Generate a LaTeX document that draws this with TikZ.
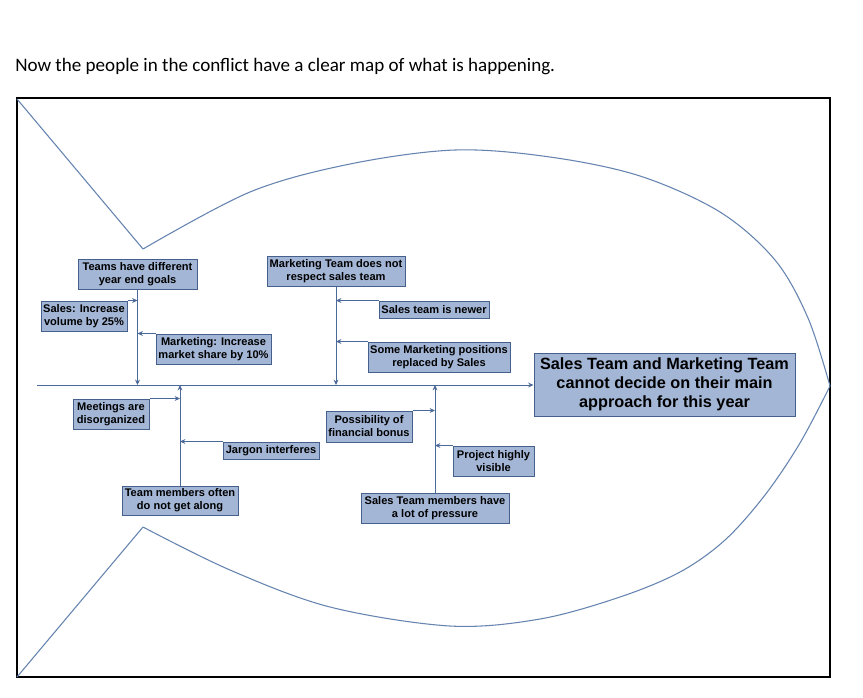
\documentclass[tikz,border=0pt]{standalone}
\usepackage{fontspec}
\setmainfont{Liberation Sans}
\newfontfamily\calibri{Carlito}
\usetikzlibrary{arrows.meta}
\definecolor{boxfill}{HTML}{A3B6D6}
\definecolor{boxdraw}{HTML}{45608C}
\definecolor{linec}{HTML}{4A6898}
\definecolor{fishc}{HTML}{6684B0}
\begin{document}
\begin{tikzpicture}[x=0.75pt,y=-0.75pt,
  cbox/.style={draw=boxdraw, fill=boxfill, line width=0.75pt, inner sep=0pt,
    align=center, text=black, font=\fontsize{8.3}{9.8}\selectfont\bfseries},
  bsz/.style 2 args={minimum width=#1*0.75pt, minimum height=#2*0.75pt},
  headbox/.style={cbox, font=\fontsize{12.2}{14.4}\selectfont\bfseries},
  arr/.style={draw=linec, line width=0.75pt, -{Stealth[length=4pt,width=3.6pt]}},
  fish/.style={draw=fishc, line width=0.8pt},
  frame/.style={draw=black, line width=0.8pt}]
\useasboundingbox[fill=white] (0,0) rectangle (863,697);

% title
\node[anchor=base west, inner sep=0pt, font=\calibri\fontsize{14.3}{17}\selectfont] (title) at (15,71) {Now the people in the conflict have a clear map of what is happening.};

% frame
\draw[frame] (17,98) rectangle (830,677);

% fish outline
\coordinate (tl) at (17,99);
\coordinate (bl) at (17,677);
\coordinate (vt) at (143,249);
\coordinate (vb) at (143,527);
\coordinate (nose) at (830,386);
\draw[fish] (tl) -- (vt);
\draw[fish] (bl) -- (vb);
\draw[fish] plot[smooth, tension=0.55] coordinates {(143,249) (250,192) (350,164) (455,150) (550,157) (640,176) (720,212) (775,260) (808,318) (830,386)};
\draw[fish] plot[smooth, tension=0.55] coordinates {(143,527) (230,570) (330,607) (450,626) (540,619) (620,597) (680,572) (725,540) (765,495) (800,443) (830,386)};

% boxes
\node[cbox, bsz={119}{30}] (teams) at (137.5,274) {Teams have different\\year end goals};
\node[cbox, bsz={86}{30}] (sales) at (84,316) {Sales: Increase\\volume by 25\%};
\node[cbox, bsz={115}{30}] (mktinc) at (213.5,349) {Marketing: Increase\\market share by 10\%};
\node[cbox, bsz={138}{30}] (mktteam) at (336,271) {Marketing Team does not\\respect sales team};
\node[cbox, bsz={110}{17}] (newer) at (434,309.5) {Sales team is newer};
\node[cbox, bsz={142}{30}] (somemkt) at (439,357) {Some Marketing positions\\replaced by Sales};
\node[headbox, bsz={261}{63}] (head) at (664.5,384.5) {Sales Team and Marketing Team\\cannot decide on their main\\approach for this year};
\node[cbox, bsz={76}{30}] (meet) at (111,414) {Meetings are\\disorganized};
\node[cbox, bsz={96}{17}] (jargon) at (271,450.5) {Jargon interferes};
\node[cbox, bsz={116}{29}] (teammem) at (180,500.5) {Team members often\\do not get along};
\node[cbox, bsz={86}{31}] (possib) at (369,426.5) {Possibility of\\financial bonus};
\node[cbox, bsz={81}{30}] (project) at (493.5,461) {Project highly\\visible};
\node[cbox, bsz={148}{30}] (salesmem) at (435,508) {Sales Team members have\\a lot of pressure};

% spine
\coordinate (tail) at (37,385);
\draw[arr] (tail) -- (tail -| head.west);

% bones
\draw[arr] (teams) -- (teams |- tail);
\draw[arr] (mktteam) -- (mktteam |- tail);
\draw[arr] (teammem) -- (teammem |- tail);
\draw[arr] (salesmem) -- (salesmem |- tail);

% sub-causes
\draw[arr] (sales.north east) -- (sales.north east -| teams);
\draw[arr] (mktinc.north west) -- (mktinc.north west -| teams);
\draw[arr] (newer.north west) -- (newer.north west -| mktteam);
\draw[arr] (somemkt.north west) -- (somemkt.north west -| mktteam);
\draw[arr] (meet.north east) -- (meet.north east -| teammem);
\draw[arr] (jargon.north west) -- (jargon.north west -| teammem);
\draw[arr] (possib.north east) -- (possib.north east -| salesmem);
\draw[arr] (project.north west) -- (project.north west -| salesmem);
\end{tikzpicture}
\end{document}
